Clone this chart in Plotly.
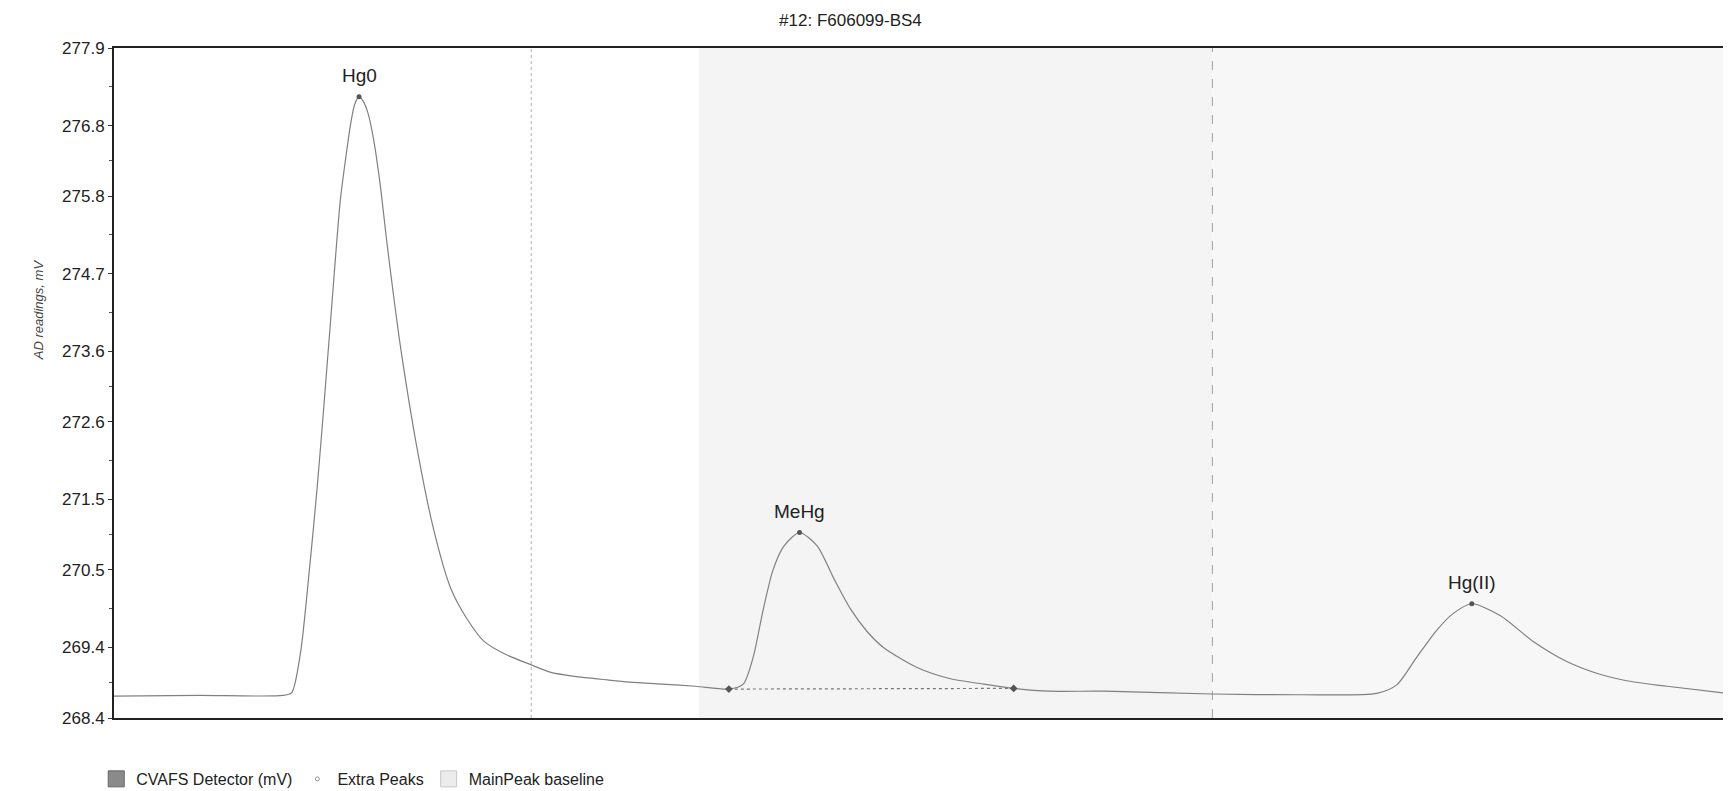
import plotly.graph_objects as go

# ---- data (time in arbitrary run units, signal in mV) ----
time = [103, 180, 256, 264, 272, 280, 287, 293, 299, 308, 313, 317, 321, 325, 329,
        333, 338, 344, 350, 356, 362, 377, 392, 408, 423, 438, 458, 480, 498, 520,
        550, 570, 600, 630, 660, 673, 682, 691, 700, 710, 724, 740, 755, 770, 785,
        800, 830, 860, 891, 918, 951, 1000, 1098, 1178, 1247, 1265, 1283, 1301, 1316,
        1333, 1359, 1389, 1419, 1449, 1480, 1510, 1564]
signal_mv = [268.71, 268.72, 268.72, 268.76, 269.33, 270.50, 271.66, 272.80, 273.99,
             275.74, 276.35, 276.79, 277.10, 277.21, 277.14, 276.98, 276.62, 275.98,
             275.17, 274.42, 273.72, 272.27, 271.11, 270.24, 269.80, 269.49, 269.30,
             269.16, 269.05, 268.99, 268.94, 268.91, 268.88, 268.85, 268.81, 268.88,
             269.26, 269.93, 270.50, 270.84, 271.03, 270.84, 270.38, 269.95, 269.63,
             269.40, 269.12, 268.96, 268.88, 268.82, 268.78, 268.78, 268.74, 268.73,
             268.75, 268.87, 269.26, 269.64, 269.88, 270.02, 269.85, 269.48, 269.20,
             269.02, 268.91, 268.85, 268.75]

peak_names = ["Hg0", "MeHg", "Hg(II)"]
peak_time = [325, 724, 1333]
peak_mv = [277.21, 271.03, 270.02]

baseline_time = [660, 918]
baseline_mv = [268.81, 268.82]

window_dotted = [481, 1563]
window_dashed = [1098]
shade_start, shade_mid, shade_end = 633, 1098, 1566

y_ticks = [268.4, 269.4, 270.5, 271.5, 272.6, 273.6, 274.7, 275.8, 276.8, 277.9]
y_min, y_max = 268.4, 277.9
x_min, x_max = 103, 1566

FONT = "Liberation Sans, Arial, sans-serif"

fig = go.Figure()

# detector trace
fig.add_trace(go.Scatter(x=time, y=signal_mv, mode="lines",
                         line=dict(color="#808080", width=1.2, shape="spline", smoothing=0.7),
                         showlegend=False, hoverinfo="x+y"))
# MeHg baseline
fig.add_trace(go.Scatter(x=baseline_time, y=baseline_mv, mode="lines+markers",
                         line=dict(color="#777", width=1.2, dash="dot"),
                         marker=dict(symbol="diamond", size=6, color="#555"),
                         showlegend=False))
# peak apex markers
fig.add_trace(go.Scatter(x=peak_time, y=peak_mv, mode="markers",
                         marker=dict(symbol="circle", size=5, color="#555"),
                         showlegend=False))

# legend entries
fig.add_trace(go.Scatter(x=[None], y=[None], mode="markers", name="CVAFS Detector (mV)",
                         marker=dict(symbol="square", size=18, color="#8a8a8a",
                                     line=dict(color="#666", width=1))))
fig.add_trace(go.Scatter(x=[None], y=[None], mode="markers", name="Extra Peaks",
                         marker=dict(symbol="circle-open", size=4, color="#999")))
fig.add_trace(go.Scatter(x=[None], y=[None], mode="markers", name="MainPeak baseline",
                         marker=dict(symbol="square", size=18, color="#ececec",
                                     line=dict(color="#c8c8c8", width=1))))

shapes = [
    dict(type="rect", xref="x", yref="paper", x0=shade_start, x1=shade_mid, y0=0, y1=1,
         fillcolor="#f4f4f4", line=dict(width=0), layer="below"),
    dict(type="rect", xref="x", yref="paper", x0=shade_mid, x1=shade_end, y0=0, y1=1,
         fillcolor="#f7f7f7", line=dict(width=0), layer="below"),
]
for xv in window_dotted:
    shapes.append(dict(type="line", xref="x", yref="paper", x0=xv, x1=xv, y0=0, y1=1,
                       line=dict(color="#b0b0b0", width=1, dash="dot"), layer="below"))
for xv in window_dashed:
    shapes.append(dict(type="line", xref="x", yref="paper", x0=xv, x1=xv, y0=0, y1=1,
                       line=dict(color="#a0a0a0", width=1, dash="dash"), layer="below"))

annotations = []
for n, t, v in zip(peak_names, peak_time, peak_mv):
    annotations.append(dict(x=t, y=v, xref="x", yref="y", text=n, showarrow=False,
                            yshift=21, font=dict(family=FONT, size=19, color="#222")))
annotations.append(dict(x=-0.053, y=0.61, xref="paper", yref="paper",
                        text="<i>AD readings, mV</i>", textangle=-90, showarrow=False,
                        font=dict(family=FONT, size=13, color="#444")))

fig.update_layout(
    width=1731, height=791,
    margin=dict(l=106, r=10, t=40, b=81, autoexpand=False),
    paper_bgcolor="white", plot_bgcolor="white",
    title=dict(text="#12: F606099-BS4", x=0.456, xref="paper", xanchor="center",
               y=0.985, yanchor="middle",
               font=dict(family=FONT, size=17, color="#222")),
    font=dict(family=FONT, color="#222"),
    shapes=shapes, annotations=annotations,
    legend=dict(orientation="h", x=-0.011, xanchor="left", y=-0.091, yanchor="middle",
                font=dict(family=FONT, size=16, color="#222"), itemwidth=30,
                bgcolor="rgba(0,0,0,0)"),
    xaxis=dict(range=[x_min, x_max], showticklabels=False, ticks="", showgrid=False,
               zeroline=False, showline=True, linecolor="#222", linewidth=2, mirror=True),
    yaxis=dict(range=[y_min, y_max], tickvals=y_ticks, ticktext=[f"{v:.1f}" for v in y_ticks],
               ticks="outside", ticklen=4, tickcolor="#333", showgrid=False, zeroline=False,
               showline=True, linecolor="#222", linewidth=2, mirror=False,
               tickfont=dict(family=FONT, size=17, color="#222"),
               minor=dict(ticks="outside", ticklen=3, tickcolor="#555",
                          tickvals=[(a + b) / 2 for a, b in zip(y_ticks[:-1], y_ticks[1:])])),
)

fig.write_html("out.html")
